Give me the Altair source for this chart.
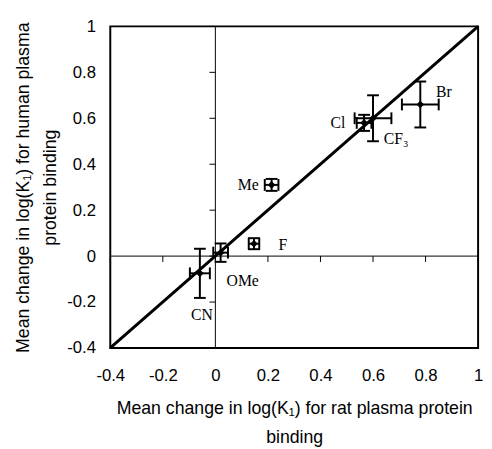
import altair as alt
import pandas as pd

# ---- data ----
subs = ["Br", "CF₃", "Cl", "Me", "F", "OMe", "CN"]
rat = [0.78, 0.60, 0.566, 0.214, 0.147, 0.02, -0.059]
human = [0.66, 0.60, 0.58, 0.31, 0.054, 0.015, -0.075]
rat_err = [0.07, 0.07, 0.028, 0.026, 0.02, 0.028, 0.038]
human_err = [0.10, 0.10, 0.035, 0.026, 0.024, 0.04, 0.107]
tick_vals = [-0.4, -0.2, 0.0, 0.2, 0.4, 0.6, 0.8, 1.0]
axis_min, axis_max = -0.4, 1.0

df = pd.DataFrame({"sub": subs, "rat": rat, "human": human,
                   "rat_err": rat_err, "human_err": human_err})
df["xlo"] = df["rat"] - df["rat_err"]
df["xhi"] = df["rat"] + df["rat_err"]
df["ylo"] = df["human"] - df["human_err"]
df["yhi"] = df["human"] + df["human_err"]

diag = pd.DataFrame({"a": [axis_min, axis_max]})
zero = pd.DataFrame({"v": [0.0]})
tk = pd.DataFrame({"t": tick_vals, "z": [0.0] * len(tick_vals)})

# label styling (offsets in pixels from each point)
label_style = {
    "Br": dict(align="left", dx=16, dy=-13),
    "CF₃": dict(align="left", dx=11, dy=21),
    "Cl": dict(align="right", dx=-19, dy=0),
    "Me": dict(align="right", dx=-13, dy=0),
    "F": dict(align="left", dx=25, dy=1),
    "OMe": dict(align="left", dx=6, dy=29),
    "CN": dict(align="center", dx=2, dy=42),
}

sans = "Liberation Sans"
serif = "Liberation Serif"
lbl_expr = "toString(round(datum.value*10)/10)"

xs = alt.Scale(domain=[axis_min, axis_max], nice=False, zero=False)
ys = alt.Scale(domain=[axis_min, axis_max], nice=False, zero=False)

xaxis = alt.Axis(values=tick_vals, domain=False, ticks=False, grid=False,
                 labelFont=sans, labelFontSize=17, labelColor="black",
                 labelPadding=20, labelFlush=False, labelOverlap=False,
                 labelExpr=lbl_expr,
                 title=["Mean change in log(K₁) for rat plasma protein", "binding"],
                 titleFont=sans, titleFontSize=18, titleFontWeight="normal",
                 titleColor="black", titlePadding=17, titleLineHeight=29)
yaxis = alt.Axis(values=tick_vals, domain=False, ticks=False, grid=False,
                 labelFont=sans, labelFontSize=17, labelColor="black",
                 labelPadding=15, labelFlush=False, labelOverlap=False,
                 labelExpr=lbl_expr,
                 title=["Mean change in log(K₁) for human plasma", "protein binding"],
                 titleFont=sans, titleFontSize=18, titleFontWeight="normal",
                 titleColor="black", titlePadding=7, titleLineHeight=28)


def X(f):
    return alt.X(f, type="quantitative", scale=xs, axis=xaxis)


def Y(f):
    return alt.Y(f, type="quantitative", scale=ys, axis=yaxis)


vline = alt.Chart(zero).mark_rule(color="black", strokeWidth=1).encode(x=X("v"))
hline = alt.Chart(zero).mark_rule(color="black", strokeWidth=1).encode(y=Y("v"))

yticks = alt.Chart(tk).mark_tick(orient="horizontal", size=6, thickness=1,
                                 color="black", xOffset=-3, opacity=1).encode(
    x=X("z"), y=Y("t"))
xticks = alt.Chart(tk).mark_tick(orient="vertical", size=6, thickness=1,
                                 color="black", yOffset=3, opacity=1).encode(
    x=X("t"), y=Y("z"))

line = alt.Chart(diag).mark_line(color="black", strokeWidth=3).encode(
    x=X("a"), y=Y("a"))

base = alt.Chart(df)
xerr = base.mark_rule(color="black", strokeWidth=2).encode(
    x=X("xlo"), x2="xhi", y=Y("human"))
yerr = base.mark_rule(color="black", strokeWidth=2).encode(
    x=X("rat"), y=Y("ylo"), y2="yhi")
cap_kw = dict(size=12, thickness=2, color="black", opacity=1)
cap_ylo = base.mark_tick(orient="horizontal", **cap_kw).encode(x=X("rat"), y=Y("ylo"))
cap_yhi = base.mark_tick(orient="horizontal", **cap_kw).encode(x=X("rat"), y=Y("yhi"))
cap_xlo = base.mark_tick(orient="vertical", **cap_kw).encode(x=X("xlo"), y=Y("human"))
cap_xhi = base.mark_tick(orient="vertical", **cap_kw).encode(x=X("xhi"), y=Y("human"))

pts = base.mark_point(shape="diamond", filled=True, size=60, color="black",
                      opacity=1).encode(x=X("rat"), y=Y("human"))

labels = []
for s in subs:
    st = label_style[s]
    labels.append(
        alt.Chart(df[df["sub"] == s]).mark_text(
            font=serif, fontSize=16, color="black", baseline="middle", **st
        ).encode(x=X("rat"), y=Y("human"), text="sub:N")
    )

chart = alt.layer(vline, hline, yticks, xticks, line, xerr, yerr,
                  cap_ylo, cap_yhi, cap_xlo, cap_xhi, pts, *labels).properties(
    width=374, height=327,
    autosize=alt.AutoSizeParams(type="none"),
    padding={"left": 104, "top": 15, "right": 6, "bottom": 98},
    background="white",
).configure_view(stroke="black", strokeWidth=2)

chart.save("out.html", embed_options={"renderer": "svg", "actions": False})
